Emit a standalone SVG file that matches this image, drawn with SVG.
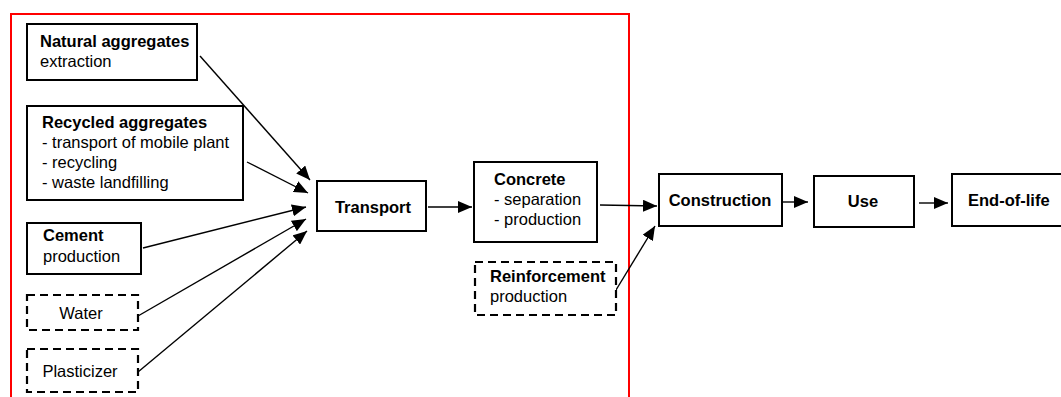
<svg xmlns="http://www.w3.org/2000/svg" width="1061" height="397" viewBox="0 0 1061 397">
<style>
.box{fill:#fff;stroke:#000;stroke-width:2}
.dash{fill:#fff;stroke:#000;stroke-width:2.2;stroke-dasharray:8,5}
text{font-family:"Liberation Sans",Arial,sans-serif;font-size:16.5px;fill:#000}
.b{font-weight:bold}
.c{stroke:#000;stroke-width:1.4;fill:none;marker-end:url(#ah)}
</style>
<defs>
<marker id="ah" markerUnits="userSpaceOnUse" markerWidth="15" markerHeight="12" refX="14" refY="6" orient="auto">
<path d="M0,0 L14,6 L0,12 Z" fill="#000"/>
</marker>
</defs>
<rect x="11" y="14" width="618" height="400" fill="none" stroke="#f00" stroke-width="2"/>
<g id="connectors">
<line class="c" x1="200" y1="56" x2="310" y2="180"/>
<line class="c" x1="247" y1="162" x2="308" y2="193"/>
<line class="c" x1="143" y1="248" x2="306" y2="207"/>
<line class="c" x1="138" y1="316" x2="306" y2="219"/>
<line class="c" x1="138" y1="372" x2="307" y2="231"/>
<line class="c" x1="428" y1="207" x2="472" y2="207"/>
<line class="c" x1="600" y1="205" x2="657" y2="206"/>
<line class="c" x1="616" y1="290" x2="655" y2="226"/>
<line class="c" x1="782" y1="202" x2="808" y2="202"/>
<line class="c" x1="919" y1="203" x2="948" y2="203"/>
</g>
<g id="natural">
<rect class="box" x="27" y="24" width="170" height="56"/>
<text x="40" y="47" class="b">Natural aggregates</text>
<text x="40" y="67">extraction</text>
</g>
<g id="recycled">
<rect class="box" x="27" y="106" width="216" height="94"/>
<text x="42" y="128" class="b">Recycled aggregates</text>
<text x="42" y="148">- transport of mobile plant</text>
<text x="42" y="168">- recycling</text>
<text x="42" y="188">- waste landfilling</text>
</g>
<g id="cement">
<rect class="box" x="27" y="223" width="114" height="51"/>
<text x="43" y="241" class="b">Cement</text>
<text x="43" y="262">production</text>
</g>
<g id="water">
<rect class="dash" x="27" y="295" width="111" height="35"/>
<text x="81" y="319" text-anchor="middle">Water</text>
</g>
<g id="plasticizer">
<rect class="dash" x="27" y="349" width="111" height="43"/>
<text x="80" y="377" text-anchor="middle">Plasticizer</text>
</g>
<g id="transport">
<rect class="box" x="317" y="181" width="109" height="50"/>
<text x="373" y="213" class="b" text-anchor="middle">Transport</text>
</g>
<g id="concrete">
<rect class="box" x="474" y="162" width="123" height="80"/>
<text x="494" y="185" class="b">Concrete</text>
<text x="494" y="205">- separation</text>
<text x="494" y="225">- production</text>
</g>
<g id="reinforcement">
<rect class="dash" x="475" y="262" width="141" height="53"/>
<text x="490" y="282" class="b">Reinforcement</text>
<text x="490" y="302">production</text>
</g>
<g id="construction">
<rect class="box" x="659" y="174" width="123" height="52"/>
<text x="720" y="206" class="b" text-anchor="middle">Construction</text>
</g>
<g id="use">
<rect class="box" x="814" y="176" width="100" height="51"/>
<text x="863" y="207" class="b" text-anchor="middle">Use</text>
</g>
<g id="endoflife">
<rect class="box" x="952" y="174" width="120" height="52"/>
<text x="968" y="206" class="b">End-of-life</text>
</g>
</svg>
